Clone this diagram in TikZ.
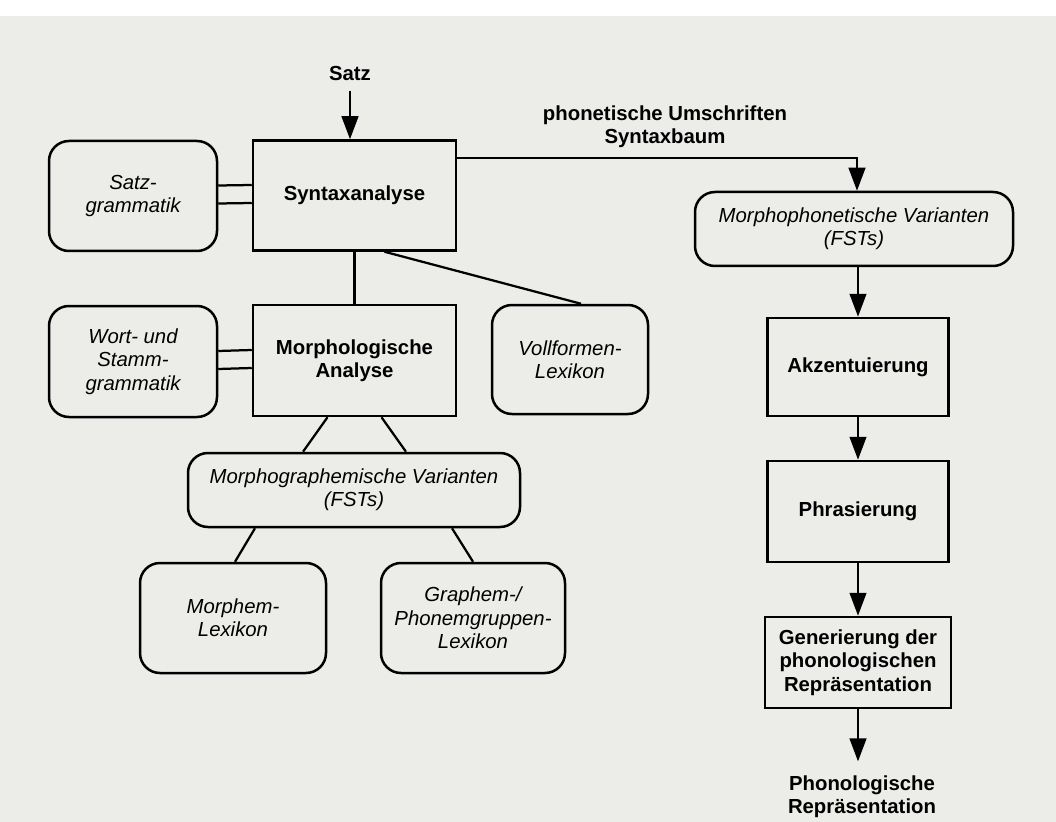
\documentclass[tikz,border=0pt]{standalone}
\usepackage{fontspec}
\setmainfont{Liberation Sans}
\usetikzlibrary{arrows.meta,calc}
\definecolor{paper}{RGB}{236,236,233}
\newcommand{\dfont}{\fontsize{12.2pt}{14pt}\selectfont}
\tikzset{lex/.style={rectangle, rounded corners=12pt, draw, line width=1.5pt, align=center, font=\dfont\itshape, inner sep=0pt},
	proc/.style={rectangle, draw, line width=1.5pt, align=center, font=\dfont\bfseries, inner sep=0pt},
	lbl/.style={align=center, font=\dfont\bfseries, inner sep=0pt},
	sz/.style 2 args={minimum width=#1*0.6pt, minimum height=#2*0.6pt},
	arr/.style={-{Triangle[length=13.8pt,width=10pt]}}
}

\begin{document}
\begin{tikzpicture}[x=0.6pt, y=-0.6pt, line width=1.35pt]
	\useasboundingbox (0,0) rectangle (1056,822);
	\fill[white] (0,0) rectangle (1056,822);
	\fill[paper] (0,16) rectangle (1056,822);

	\node[proc, sz={203}{110}] (syn) at (354.5,195.5) {Syntaxanalyse};
	\node[lex, sz={168}{110}] (satzg) at (133,196) {Satz-\\grammatik};
	\node[proc, sz={203}{111}] (morph) at (354.5,360.5) {Morphologische\\Analyse};
	\node[lex, sz={168}{111}] (wort) at (133,361.5) {Wort- und\\Stamm-\\grammatik};
	\node[lex, sz={156}{109}] (voll) at (570,359.5) {Vollformen-\\Lexikon};
	\node[lex, sz={332}{74}] (mgv) at (354,490) {Morphographemische Varianten\\(FSTs)};
	\node[lex, sz={186}{110}] (mlex) at (233,618) {Morphem-\\Lexikon};
	\node[lex, sz={184}{110}] (glex) at (473,618) {Graphem-/\\Phonemgruppen-\\Lexikon};
	\node[lex, sz={318}{74}] (mpv) at (854,229) {Morphophonetische Varianten\\(FSTs)};
	\node[proc, sz={181}{98}] (akz) at (858,367) {Akzentuierung};
	\node[proc, sz={181}{101}] (phr) at (858,511.5) {Phrasierung};
	\node[proc, sz={186}{91}] (gen) at (858,662.5) {Generierung der\\phonologischen\\Repräsentation};
	\node[lbl] (satz) at (350,74) {Satz};
	\node[lbl] (umschr) at (665,127) {phonetische Umschriften\\Syntaxbaum};
	\node[lbl] (phonrep) at (862,797) {Phonologische\\Repräsentation};

	\draw[arr, shorten <=5pt] (satz.south) -- (satz.south |- syn.north);
	\foreach \a/\b in {satzg/syn, wort/morph}{
		\draw ([yshift=6.3pt]\a.east) -- ([yshift=6.3pt]\b.west);
		\draw ([yshift=-4.5pt]\a.east) -- ([yshift=-4.5pt]\b.west);
	}
	\draw (syn) -- (morph);
	\draw ($(syn.south)+(30,0)$) -- ($(voll.north)+(11,0)$);
	\draw ($(morph.south)+(-27,0)$) -- ($(mgv.north)+(-51,0)$);
	\draw ($(morph.south)+(27,0)$) -- ($(mgv.north)+(52,0)$);
	\draw ($(mgv.south)+(-99,0)$) -- ($(mlex.north)+(2,0)$);
	\draw ($(mgv.south)+(98,0)$) -- (glex.north);

	\coordinate (knick) at (857,158);
	\draw[arr] (syn.east |- knick) -- (knick) -- (knick |- mpv.north);
	\draw[arr] (mpv.south -| akz.north) -- (akz.north);
	\draw[arr] (akz) -- (phr);
	\draw[arr] (phr) -- (gen);
	\draw[arr, shorten >=8pt] (gen.south) -- (gen.south |- phonrep.north);
\end{tikzpicture}
\end{document}
